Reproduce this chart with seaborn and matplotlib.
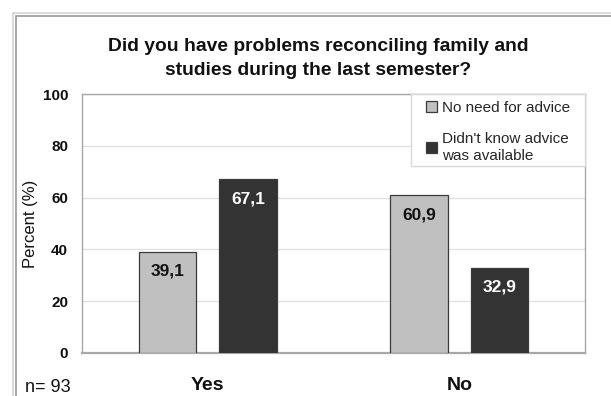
import textwrap

import matplotlib
matplotlib.use("Agg")
import matplotlib.pyplot as plt
from matplotlib.lines import Line2D
from matplotlib.patches import Rectangle
import pandas as pd
import seaborn as sns

# Survey answers, reasons and shares in percent
answers = ["Yes", "No"]
reasons = ["No need for advice", "Didn't know advice was available"]
no_need_pct = [39.1, 60.9]
didnt_know_pct = [67.1, 32.9]
y_ticks = [0, 20, 40, 60, 80, 100]
sample_note = "n= 93"
title = "Did you have problems reconciling family and\nstudies during the last semester?"

df = pd.DataFrame({
    "answer": answers * 2,
    "reason": [reasons[0]] * 2 + [reasons[1]] * 2,
    "percent": no_need_pct + didnt_know_pct,
})

sns.set_theme(style="white")
plt.rcParams["font.family"] = ["Liberation Sans", "DejaVu Sans"]

W, H = 611, 396
fig = plt.figure(figsize=(W / 100, H / 100), dpi=100)
ax = fig.add_axes([82 / W, (H - 353) / H, (585 - 82) / W, (353 - 94) / H])

bar_colors = ["#c0c0c0", "#333333"]
sns.barplot(data=df, x="answer", y="percent", hue="reason", order=answers,
            hue_order=reasons, palette=bar_colors, width=0.644, gap=0.29,
            edgecolor="#3a3a3a", linewidth=0.9, saturation=1, ax=ax, zorder=3)

# value labels inside the top of each bar
label_colors = ["#111111", "white"]
for container, tcol in zip(ax.containers, label_colors):
    for patch in container:
        h = patch.get_height()
        ax.annotate(f"{h:.1f}".replace(".", ","),
                    xy=(patch.get_x() + patch.get_width() / 2, h),
                    xytext=(0, -14), textcoords="offset points",
                    ha="center", va="center", fontsize=12.5,
                    fontweight="bold", color=tcol, zorder=4)

ax.set_ylim(0, 100)
ax.set_yticks(y_ticks)
ax.set_yticklabels([str(t) for t in y_ticks], fontsize=11, fontweight="bold")
ax.yaxis.grid(True, color="#e2e2e2", linewidth=1)
ax.set_axisbelow(True)
ax.tick_params(axis="y", length=0, pad=10, colors="#111111")
ax.tick_params(axis="x", length=0, pad=17, labelsize=14, colors="#111111")
for lbl in ax.get_xticklabels():
    lbl.set_fontweight("bold")
ax.set_xticks([0.5], minor=True)
ax.tick_params(axis="x", which="minor", direction="in", length=4,
               color="#a0a0a0", width=1)
ax.set_xlabel("")
ax.set_ylabel("Percent (%)", fontsize=12, color="#111111")
ax.yaxis.set_label_coords((38 - 82) / (585 - 82), 0.5)
for sp in ax.spines.values():
    sp.set_visible(True)
    sp.set_color("#a8a8a8")
    sp.set_linewidth(1)
ax.spines["bottom"].set_linewidth(1.6)

# legend in the top right corner, boxed with extra side padding
handles, labels = ax.get_legend_handles_labels()
wrapped = [textwrap.fill(l, 18) for l in labels]
side_pad = 8 / (585 - 82)
leg = ax.legend(handles, wrapped, loc="upper right",
                bbox_to_anchor=(1.0 - side_pad, 1.0),
                borderaxespad=0, frameon=False, fontsize=11,
                handlelength=0.7, handleheight=0.7, handletextpad=0.35,
                labelspacing=1.15, borderpad=0.45)
leg.set_zorder(5)
fig.canvas.draw()
bb = leg.get_window_extent().transformed(fig.transFigure.inverted())
trim = 4 / H
box = Rectangle((bb.x0 - 8 / W, bb.y0 + trim), bb.width + 16 / W,
                bb.height - trim, transform=fig.transFigure,
                facecolor="white", edgecolor="#d8d8d8", linewidth=1,
                zorder=4.5)
ax.add_artist(box)
box.set_clip_on(False)

fig.text(318 / W, 1 - 58.5 / H, title, ha="center", va="center",
         fontsize=13.9, fontweight="bold", linespacing=1.6, color="#111111")
fig.text(25 / W, 1 - 387 / H, sample_note, ha="left", va="center",
         fontsize=13, color="#111111")

# double border around the chart area
for off, col in [(12.5, "#d4d4d4"), (16, "#9a9a9a")]:
    fig.add_artist(Line2D([off / W, off / W], [0, 1 - off / H],
                          transform=fig.transFigure, color=col, linewidth=1.2))
    fig.add_artist(Line2D([off / W, 1], [1 - off / H, 1 - off / H],
                          transform=fig.transFigure, color=col, linewidth=1.2))

fig.savefig("out.png", dpi=100)
